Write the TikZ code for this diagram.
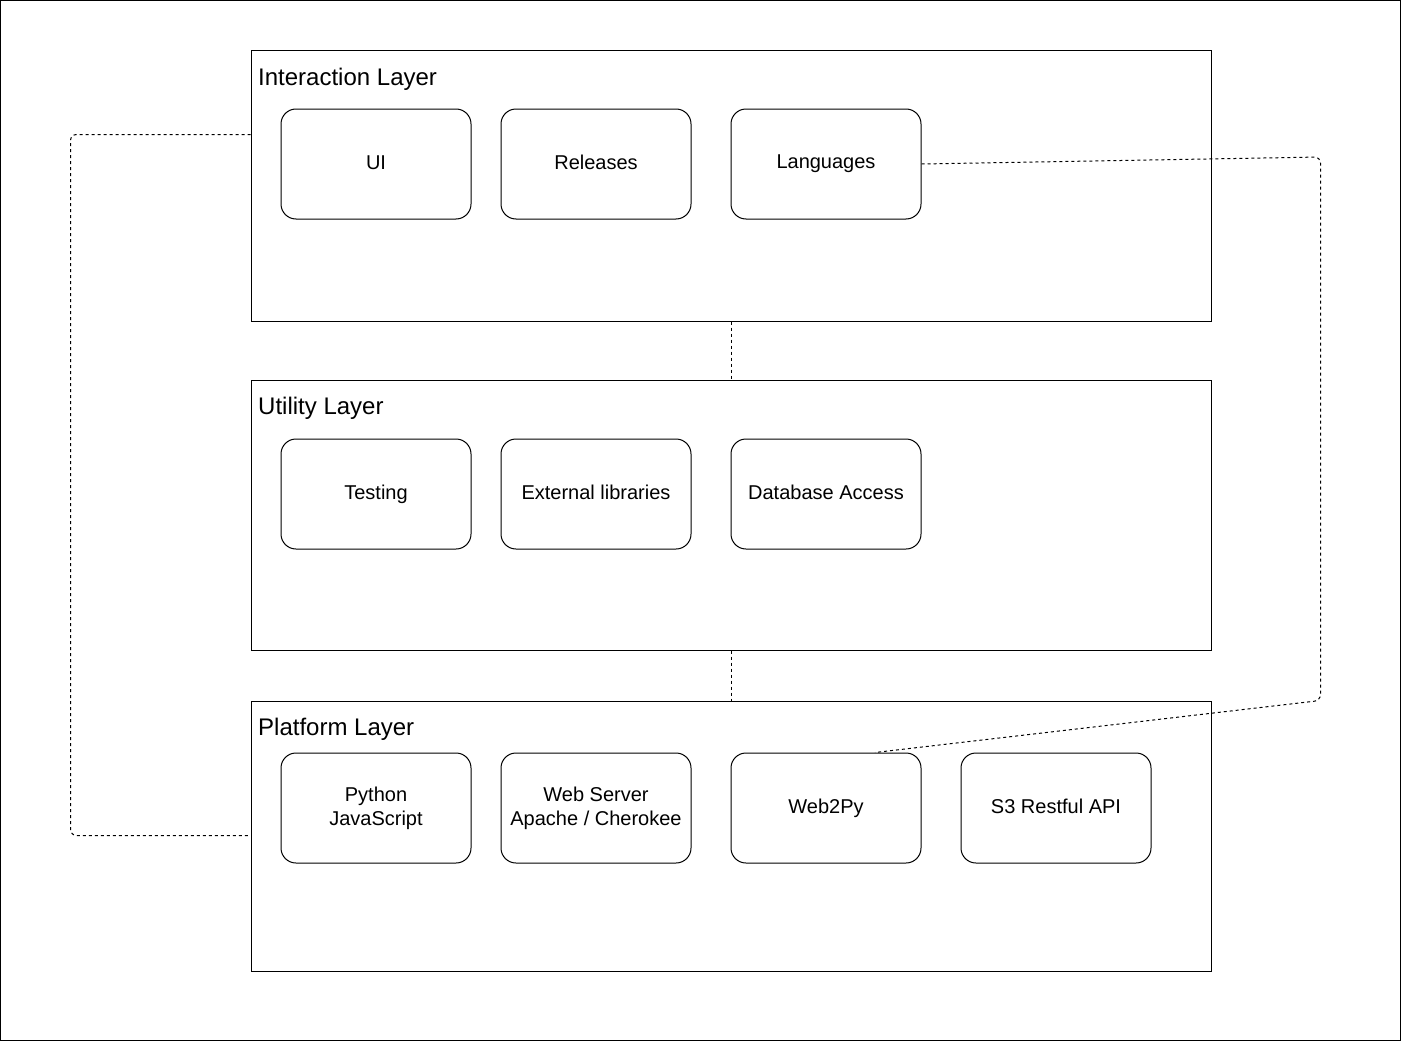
\documentclass[tikz,border=0pt]{standalone}
\usepackage{fontspec}
\setmainfont{Liberation Sans}
\newcommand{\lstrut}{\rule[-3pt]{0pt}{17pt}}
\begin{document}
\begin{tikzpicture}[x=1pt,y=-1pt,
  layer/.style={draw,line width=1pt,anchor=north west,inner sep=0pt,minimum width=960pt,minimum height=270pt},
  comp/.style={draw,line width=1pt,rounded corners=15pt,anchor=north west,inner sep=0pt,minimum width=190pt,minimum height=110pt,align=center,font=\fontsize{20}{24}\selectfont},
  ltitle/.style={anchor=base west,inner sep=0pt,font=\fontsize{24}{28}\selectfont},
  link/.style={draw,line width=1pt,dash pattern=on 3pt off 3pt,rounded corners=6pt}]
\useasboundingbox (0,0) rectangle (1401,1041);
\draw[line width=1pt] (0.5,0.5) rectangle (1400.5,1040.5);
% layers
\node[layer] (il) at (250.5,50.5) {};
\node[layer] (ul) at (250.5,379.5) {};
\node[layer] (pl) at (250.5,700.5) {};
\node[ltitle] (ilt) at (258,85) {Interaction Layer};
\node[ltitle] (ult) at (258,414) {Utility Layer};
\node[ltitle] (plt) at (258,735) {Platform Layer};
% components
\node[comp] (ui) at (280.5,108.5) {\lstrut UI};
\node[comp] (rel) at (500.5,108.5) {\lstrut Releases};
\node[comp] (lang) at (730.5,108.5) {\lstrut Languages};
\node[comp] (test) at (280.5,438.5) {\lstrut Testing};
\node[comp] (ext) at (500.5,438.5) {\lstrut External libraries};
\node[comp] (db) at (730.5,438.5) {\lstrut Database Access};
\node[comp] (py) at (280.5,752.5) {\lstrut Python\\\lstrut JavaScript};
\node[comp] (ws) at (500.5,752.5) {\lstrut Web Server\\\lstrut Apache / Cherokee};
\node[comp] (w2p) at (730.5,752.5) {\lstrut Web2Py};
\node[comp] (s3) at (960.5,752.5) {\lstrut S3 Restful API};
% connectors
\coordinate (ilw) at (il.north west |- 0,134.5);
\coordinate (plw) at (pl.north west |- 0,835.5);
\draw[link] (ilw) -- (70.5,134.5) -- (70.5,835.5) -- (plw);
\coordinate (w2pt) at (875,752.5);
\draw[link] (lang.east) -- (1320.5,157) -- (1320.5,700.5) -- (w2pt);
\draw[link] (il.south) -- (ul.north);
\draw[link] (ul.south) -- (pl.north);
\end{tikzpicture}
\end{document}
